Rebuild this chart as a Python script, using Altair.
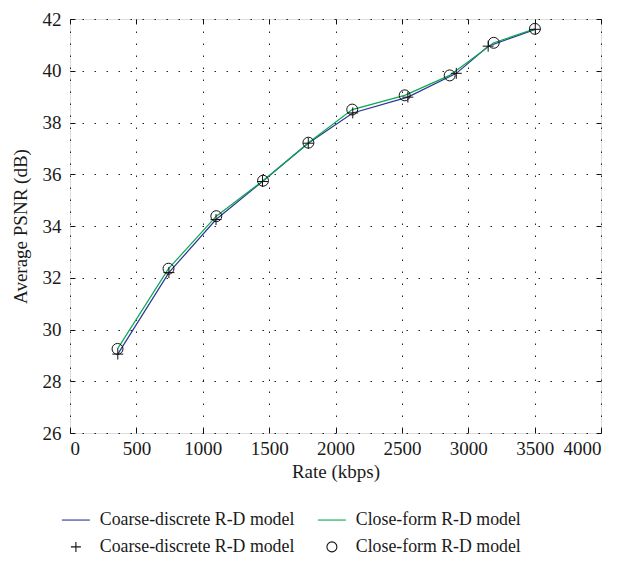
import altair as alt
import pandas as pd

# Data
rate_coarse = [360, 745, 1100, 1450, 1795, 2130, 2545, 2910, 3150, 3505]
psnr_coarse = [29.05, 32.2, 34.25, 35.72, 37.2, 38.37, 38.98, 39.9, 40.95, 41.6]
rate_close = [358, 742, 1102, 1454, 1796, 2126, 2521, 2860, 3192, 3502]
psnr_close = [29.25, 32.35, 34.38, 35.75, 37.22, 38.5, 39.05, 39.82, 41.08, 41.62]

series_names = ["Coarse", "Close"]
legend_keys = ["L Coarse", "L Close", "P Coarse", "P Close"]
x_ticks = [0, 500, 1000, 1500, 2000, 2500, 3000, 3500, 4000]
y_ticks = [26, 28, 30, 32, 34, 36, 38, 40, 42]

BLUE = "#2b3595"
GREEN = "#0aa850"
FONT = "Liberation Serif"

rows = []
for r, p in zip(rate_coarse, psnr_coarse):
    rows.append({"rate": r, "psnr": p, "series": "Coarse"})
for r, p in zip(rate_close, psnr_close):
    rows.append({"rate": r, "psnr": p, "series": "Close"})
df = pd.DataFrame(rows)
df["lkey"] = "L " + df["series"]
df["pkey"] = "P " + df["series"]

line_path = "M-2.8,0H2.8"
plus_path = "M-1,0H1M0,-1V1"
circle_path = "M1,0A1,1,0,1,1,-1,0A1,1,0,1,1,1,0Z"

xscale = alt.Scale(domain=[0, 4000], nice=False)
yscale = alt.Scale(domain=[26, 42], nice=False, zero=False)

common_axis = dict(
    offset=-5, tickSize=5, domain=False, tickColor="#111", tickWidth=1,
    labelFont=FONT, labelFontSize=19, labelColor="#1a1a1a", format="d",
    titleFont=FONT, titleFontSize=19, titleColor="#1a1a1a", titleFontWeight="normal",
)

x_bottom = alt.X("rate:Q", scale=xscale, axis=alt.Axis(
    orient="bottom", values=x_ticks, grid=True, gridDash=[1.5, 10.5], gridColor="#222",
    gridWidth=1, labelPadding=6, title="Rate (kbps)", titlePadding=4, **common_axis))
y_left = alt.Y("psnr:Q", scale=yscale, axis=alt.Axis(
    orient="left", values=y_ticks, grid=True, gridDash=[1.5, 10.5], gridColor="#222",
    gridWidth=1, labelPadding=9, title="Average PSNR (dB)", titlePadding=12, **common_axis))

lines = alt.Chart(df).mark_line(strokeWidth=1.2).encode(
    x=x_bottom,
    y=y_left,
    stroke=alt.Stroke("lkey:N", scale=alt.Scale(domain=["L Coarse", "L Close"], range=[BLUE, GREEN]), legend=None),
    detail="series:N",
)

legend = alt.Legend(
    title=None, orient="none", legendX=-3, legendY=492, columns=2, direction="horizontal",
    labelExpr="indexof(datum.label, 'Coarse') >= 0 ? 'Coarse-discrete R-D model' : 'Close-form R-D model'",
    labelFont=FONT, labelFontSize=17.8, labelColor="#1a1a1a", labelLimit=0,
    symbolSize=100, symbolStrokeWidth=1.1,
    labelOffset=15, columnPadding=20, rowPadding=8, symbolFillColor="transparent",
)

points = alt.Chart(df).mark_point(filled=False, size=120, strokeWidth=1, opacity=1).encode(
    x=alt.X("rate:Q", scale=xscale, axis=None),
    y=alt.Y("psnr:Q", scale=yscale, axis=None),
    color=alt.Color("pkey:N", scale=alt.Scale(domain=legend_keys, range=[BLUE, GREEN, "#111", "#111"]), legend=legend),
    shape=alt.Shape("pkey:N", scale=alt.Scale(domain=legend_keys, range=[line_path, line_path, plus_path, circle_path]), legend=legend),
)

ghost_axis = dict(offset=-5, tickSize=5, domain=False, tickColor="#111", labels=False, grid=False, title=None)
ghost = alt.Chart(df).mark_line(opacity=0).encode(
    x=alt.X("rate:Q", scale=xscale, axis=alt.Axis(orient="top", values=x_ticks, **ghost_axis)),
    y=alt.Y("psnr:Q", scale=yscale, axis=alt.Axis(orient="right", values=y_ticks, **ghost_axis)),
    detail="series:N",
)

chart = alt.layer(lines, points, ghost).resolve_axis(x="independent", y="independent").properties(
    width=531, height=414,
    padding={"left": 62, "top": 11, "right": 11, "bottom": 124},
    autosize=alt.AutoSizeParams(type="none"),
).configure_view(stroke="#111", strokeWidth=1.2).configure(background="white")

chart.save("out.html", embed_options={"renderer": "svg", "actions": False})
